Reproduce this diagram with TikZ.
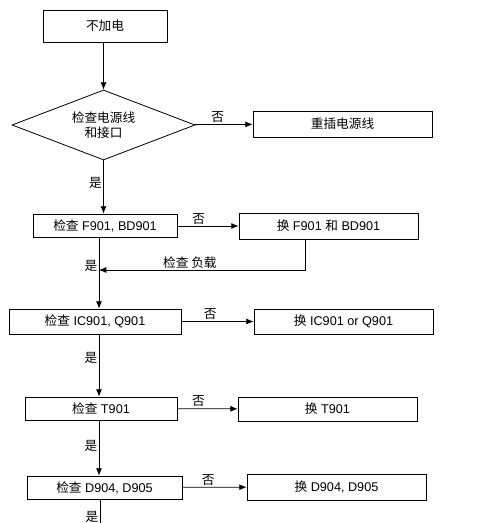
\documentclass[tikz,border=0pt]{standalone}
\usepackage{fontspec}
\setmainfont{Liberation Sans}
\newfontfamily\cjk{Noto Sans CJK SC}
\newcommand{\zh}[1]{{\cjk #1}}
\newcommand{\px}{0.75pt}
\usetikzlibrary{
  arrows.meta,
  shapes.geometric
}
\begin{document}
\begin{tikzpicture}[x=\px, y=-\px,
    every node/.style={font=\fontsize{9.5}{11.5}\selectfont, inner sep=1pt},
    box/.style={draw, rectangle, text centered, line width=0.6pt},
    test/.style={draw, diamond, aspect=2.6, inner sep=0pt, align=center, line width=0.6pt},
    flow/.style={-{Latex[length=5.5pt,width=4.5pt]}, line width=0.6pt}]
\useasboundingbox (0,0) rectangle (500,523);
\node [box, minimum width=124*\px, minimum height=32*\px] (nopower) at (105,26) {\zh{不加电}};
\node [test, minimum width=183*\px, minimum height=70*\px] (cord) at (103.5,125) {\zh{检查电源线}\\\zh{和接口}};
\node [box, minimum width=179*\px, minimum height=26*\px] (replug) at (342.5,124) {\zh{重插电源线}};
\node [box, minimum width=144*\px, minimum height=23*\px] (fuse) at (105,225.5) {\zh{检查} F901, BD901};
\node [box, minimum width=179*\px, minimum height=26*\px] (newfuse) at (328.5,226) {\zh{换} F901 \zh{和} BD901};
\node [box, minimum width=172*\px, minimum height=25*\px] (ic) at (95,321.5) {\zh{检查} IC901, Q901};
\node [box, minimum width=179*\px, minimum height=25*\px] (newic) at (343.5,321.5) {\zh{换} IC901 or Q901};
\node [box, minimum width=152*\px, minimum height=23*\px] (trafo) at (101,408.5) {\zh{检查} T901};
\node [box, minimum width=179*\px, minimum height=24*\px] (newtrafo) at (327.5,409) {\zh{换} T901};
\node [box, minimum width=155*\px, minimum height=23*\px] (diode) at (104.5,487.5) {\zh{检查} D904, D905};
\node [box, minimum width=179*\px, minimum height=26*\px] (newdiode) at (336.5,487) {\zh{换} D904, D905};
\coordinate (load) at (99,270);
\coordinate (more) at (100,523);
\draw [flow] (nopower.south -| cord.north) -- (cord.north);
\draw [flow] (cord) -- node [above, pos=0.4] {\zh{否}} (replug);
\draw [flow] (cord.south) -- node [left, pos=0.43] {\zh{是}} (cord.south |- fuse.north);
\draw [flow] (fuse.east |- newfuse.west) -- node [above, pos=0.35] {\zh{否}} (newfuse.west);
\draw [flow] ([xshift=-23*\px]newfuse.south) |- node [above, pos=0.78] {\zh{检查\ 负载}} (load);
\draw [flow] (fuse.south -| load) -- node [left, pos=0.4] {\zh{是}} (load |- ic.north);
\draw [flow] (ic) -- node [above, pos=0.4] {\zh{否}} (newic);
\draw [flow] (ic.south -| load) -- node [left, pos=0.38] {\zh{是}} (load |- trafo.north);
\draw [flow] (trafo) -- node [above, pos=0.35] {\zh{否}} (newtrafo);
\draw [flow] (trafo.south -| load) -- node [left, pos=0.46] {\zh{是}} (load |- diode.north);
\draw [flow] (diode) -- node [above, pos=0.4] {\zh{否}} (newdiode);
\draw [line width=0.6pt] (diode.south -| more) -- node [left, pos=0.75] {\zh{是}} (more);
\end{tikzpicture}
\end{document}
